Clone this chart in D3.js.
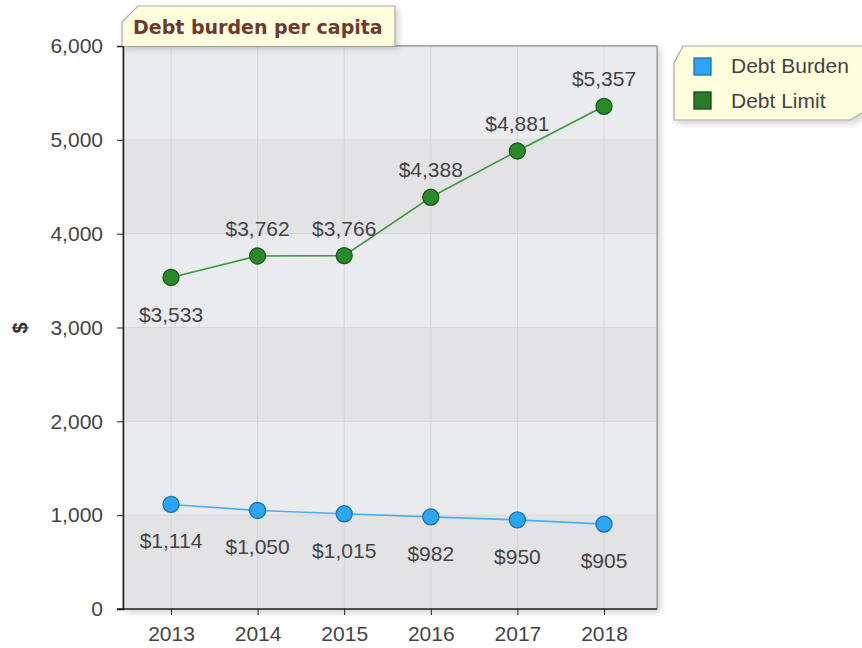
<!DOCTYPE html>
<html lang="en">
<head>
  <meta charset="UTF-8">
  <title>Debt burden per capita</title>
  <script src="https://d3js.org/d3.v7.min.js"></script>
  <style>
    body { margin: 0; background: #fff; }
    text { font-family: "Liberation Sans", Arial, sans-serif; }
    .tick text { font-size: 21px; fill: #444; font-family: "Liberation Sans", Arial, sans-serif; }
    .val { font-size: 21px; fill: #444; }
  </style>
</head>
<body>
<svg width="862" height="648"></svg>
<script>
  // data
  let years = ["2013", "2014", "2015", "2016", "2017", "2018"];
  let debtBurden = [1114, 1050, 1015, 982, 950, 905];
  let debtLimit = [3533, 3762, 3766, 4388, 4881, 5357];
  let yTicks = [0, 1000, 2000, 3000, 4000, 5000, 6000];
  let seriesNames = ["Debt Burden", "Debt Limit"];

  let svg = d3.select("svg");
  let pLeft = 123, pTop = 46, pRight = 657, pBottom = 609;

  let x = d3.scalePoint().domain(years).range([pLeft + 48, pRight - 53]);
  let y = d3.scaleLinear().domain([0, 6000]).range([pBottom, pTop]);

  // shadows
  let defs = svg.append("defs");
  let f = defs.append("filter").attr("id", "sh").attr("x", "-10%").attr("y", "-10%").attr("width", "130%").attr("height", "130%");
  f.append("feDropShadow").attr("dx", 3).attr("dy", 3).attr("stdDeviation", 3).attr("flood-color", "#000").attr("flood-opacity", 0.18);

  svg.append("rect")
    .attr("x", pLeft).attr("y", pTop)
    .attr("width", pRight - pLeft).attr("height", pBottom - pTop)
    .attr("fill", "#e8eaed").attr("stroke", "#999").attr("filter", "url(#sh)");

  // alternating bands
  for (let i = 0; i < yTicks.length - 1; i++) {
    svg.append("rect")
      .attr("x", pLeft).attr("y", y(yTicks[i + 1]))
      .attr("width", pRight - pLeft).attr("height", y(yTicks[i]) - y(yTicks[i + 1]))
      .attr("fill", i % 2 === 0 ? "#e3e3e6" : "#e9ebee");
  }

  // grid
  svg.selectAll(".hg").data(yTicks).enter().append("line")
    .attr("x1", pLeft).attr("x2", pRight)
    .attr("y1", d => y(d)).attr("y2", d => y(d))
    .attr("stroke", "#d6d6d8");
  svg.selectAll(".vg").data(years).enter().append("line")
    .attr("x1", d => x(d)).attr("x2", d => x(d))
    .attr("y1", pTop).attr("y2", pBottom)
    .attr("stroke", "#d6d6d8");

  // frame right / top
  svg.append("line").attr("x1", pRight).attr("x2", pRight).attr("y1", pTop).attr("y2", pBottom).attr("stroke", "#8a8a8a");
  svg.append("line").attr("x1", pLeft).attr("x2", pRight).attr("y1", pTop).attr("y2", pTop).attr("stroke", "#8a8a8a");

  // axes
  let yAxis = svg.append("g").attr("transform", "translate(" + pLeft + ",0)")
    .call(d3.axisLeft(y).tickValues(yTicks).tickFormat(d3.format(",")).tickSize(6).tickPadding(14));
  yAxis.select(".domain").attr("stroke", "#222").attr("stroke-width", 1.5);
  yAxis.selectAll(".tick line").attr("stroke", "#222");

  let xAxis = svg.append("g").attr("transform", "translate(0," + pBottom + ")")
    .call(d3.axisBottom(x).tickSize(6).tickPadding(11));
  xAxis.select(".domain").attr("d", "M" + (pLeft - 6) + ",0H" + pRight).attr("stroke", "#222").attr("stroke-width", 1.5);
  xAxis.selectAll(".tick line").attr("stroke", "#222");

  svg.append("text")
    .attr("transform", "translate(27,328) rotate(-90)")
    .attr("text-anchor", "middle")
    .attr("font-size", "20px").attr("font-weight", "bold").attr("fill", "#333")
    .text("$");

  // series
  let line = d3.line().x((d, i) => x(years[i])).y(d => y(d));
  let fmt = d => "$" + d3.format(",")(d);

  function drawSeries(vals, lineColor, fill, stroke, dyFn) {
    svg.append("path").datum(vals)
      .attr("d", line).attr("fill", "none")
      .attr("stroke", lineColor).attr("stroke-width", 1.6);
    svg.selectAll(null).data(vals).enter().append("circle")
      .attr("cx", (d, i) => x(years[i])).attr("cy", d => y(d))
      .attr("r", 8).attr("fill", fill).attr("stroke", stroke).attr("stroke-width", 1.3);
    svg.selectAll(null).data(vals).enter().append("text")
      .attr("class", "val")
      .attr("x", (d, i) => x(years[i]))
      .attr("y", (d, i) => y(d) + dyFn(i))
      .attr("text-anchor", "middle")
      .text(fmt);
  }

  drawSeries(debtLimit, "#3c9a3c", "#2a8a2a", "#175c17", i => i === 0 ? 45 : -20);
  drawSeries(debtBurden, "#45aff5", "#2ba6f3", "#1b70b3", i => 44);

  // title box
  svg.append("path")
    .attr("d", "M122,46V22L138,6H395V46")
    .attr("fill", "#ffffdd").attr("stroke", "#aaa").attr("stroke-width", 1.2)
    .attr("filter", "url(#sh)");
  svg.append("text")
    .attr("x", 133).attr("y", 34)
    .style("font-family", "DejaVu Sans, Verdana, sans-serif")
    .attr("font-size", "19px").attr("font-weight", "bold").attr("fill", "#6e3a2e")
    .text("Debt burden per capita");

  // legend
  svg.append("path")
    .attr("d", "M683,46H870V108L850,120H674V63Z")
    .attr("fill", "#ffffdd").attr("stroke", "#aaa").attr("stroke-width", 1.2)
    .attr("filter", "url(#sh)");
  let legColors = [["#2ba6f3", "#1b70b3"], ["#2a7a2a", "#154a15"]];
  seriesNames.forEach(function(n, i) {
    svg.append("rect")
      .attr("x", 694).attr("y", 58 + i * 34).attr("width", 17).attr("height", 17)
      .attr("fill", legColors[i][0]).attr("stroke", legColors[i][1]).attr("stroke-width", 1.3);
    svg.append("text")
      .attr("x", 731).attr("y", 73 + i * 35)
      .attr("font-size", "21px").attr("fill", "#444")
      .text(n);
  });
</script>
</body>
</html>
